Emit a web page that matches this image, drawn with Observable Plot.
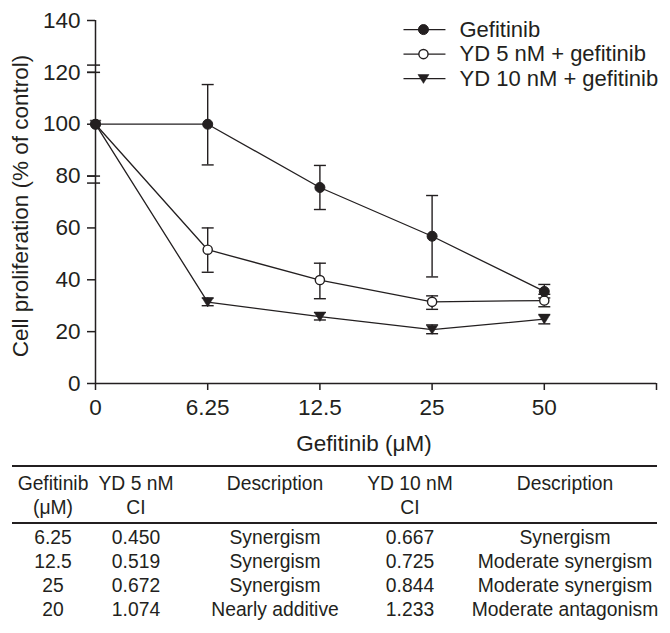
<!DOCTYPE html>
<html>
<head>
<meta charset="utf-8">
<script src="https://cdn.jsdelivr.net/npm/d3@7"></script>
<script src="https://cdn.jsdelivr.net/npm/@observablehq/plot@0.6"></script>
<style>
  html, body { margin: 0; padding: 0; background: #fff; }
  body { width: 670px; font-family: "Liberation Sans", Arial, sans-serif; color: #231f20; }
  #chart svg { display: block; }
  #table { position: relative; width: 670px; height: 173px; font-size: 19.3px; }
  #table .cell { position: absolute; transform: translateX(-50%); white-space: nowrap; line-height: 24px; height: 24px; }
  #table .rule { position: absolute; left: 12px; width: 645px; height: 2px; background: #231f20; }
</style>
</head>
<body>
<div id="chart"></div>
<div id="table"></div>
<script>
// ---------- chart data ----------
const xLabels = ["0", "6.25", "12.5", "25", "50"];
const seriesNames = ["Gefitinib", "YD 5 nM + gefitinib", "YD 10 nM + gefitinib"];

const gefMean = [100, 100, 75.6, 56.8, 35.5];
const gefLo   = [null, 84.3, 67.1, 41.1, 33.0];
const gefHi   = [null, 115.3, 84.1, 72.5, 38.2];

const yd5Mean = [100, 51.6, 39.9, 31.5, 32.0];
const yd5Lo   = [null, 42.9, 32.7, 28.6, 29.6];
const yd5Hi   = [null, 60.0, 46.4, 33.8, 34.4];

const yd10Mean = [100, 31.4, 25.8, 20.8, 24.8];
const yd10Lo   = [null, 30.0, 24.5, 19.2, 23.0];
const yd10Hi   = [null, 33.0, 27.4, 22.6, 26.6];

const yTicks = [0, 20, 40, 60, 80, 100, 120, 140];
const xTickSlots = [0, 1, 2, 3, 4, 5];
const axisBreaks = [120, 122.8, 77.3, 80];

const yTitle = "Cell proliferation (% of control)";
const xTitle = "Gefitinib (\u03bcM)";

// ---------- table data ----------
const tableHeaderTop = ["Gefitinib", "YD 5 nM", "Description", "YD 10 nM", "Description"];
const tableHeaderBottom = ["(\u03bcM)", "CI", "", "CI", ""];
const tableDose = ["6.25", "12.5", "25", "20"];
const tableCI5 = ["0.450", "0.519", "0.672", "1.074"];
const tableDesc5 = ["Synergism", "Synergism", "Synergism", "Nearly additive"];
const tableCI10 = ["0.667", "0.725", "0.844", "1.233"];
const tableDesc10 = ["Synergism", "Moderate synergism", "Moderate synergism", "Moderate antagonism"];

// ---------- build ----------
const ink = "#231f20";
const fs = 22.5;
const legendFs = 22;
const means = [gefMean, yd5Mean, yd10Mean];
const los = [gefLo, yd5Lo, yd10Lo];
const his = [gefHi, yd5Hi, yd10Hi];

const points = [];
const errs = [];
seriesNames.forEach((s, k) => {
  means[k].forEach((v, i) => {
    points.push({series: s, k, i, v});
    if (los[k][i] != null) errs.push({series: s, k, i, lo: los[k][i], hi: his[k][i]});
  });
});
const caps = errs.flatMap(d => [{i: d.i, y: d.lo}, {i: d.i, y: d.hi}]);

const capSymbol = {
  draw(ctx, size) {
    const w = Math.sqrt(size / Math.PI);
    ctx.moveTo(-w, 0); ctx.lineTo(w, 0);
  }
};
const triDown = {
  draw(ctx, size) {
    const r = Math.sqrt(size / Math.PI);
    ctx.moveTo(-1.15 * r, -0.85 * r);
    ctx.lineTo(1.15 * r, -0.85 * r);
    ctx.lineTo(0, 1.0 * r);
    ctx.closePath();
  }
};

const styles = [
  {symbol: "circle", fill: ink, stroke: ink, r: 5, strokeWidth: 1},
  {symbol: "circle", fill: "white", stroke: ink, r: 4.6, strokeWidth: 1.4},
  {symbol: triDown, fill: ink, stroke: ink, r: 4.8, strokeWidth: 0.5}
];

// legend placement (in scale units)
const legendLine = [2.745, 3.119];
const legendMark = 2.923;
const legendText = 3.244;
const legendTop = 136.5;
const legendStep = 9.45;
const legendRows = seriesNames.map((name, k) => ({name, k, y: legendTop - k * legendStep}));

const dotMarks = [];
[2, 1, 0].forEach(k => {
  const st = styles[k];
  dotMarks.push(Plot.dot(points.filter(d => d.k === k), {x: "i", y: "v", ...st}));
  dotMarks.push(Plot.dot(legendRows.filter(d => d.k === k), {x: () => legendMark, y: "y", ...st}));
});

const chart = Plot.plot({
  width: 670,
  height: 460,
  marginLeft: 95,
  marginRight: 14,
  marginTop: 20,
  marginBottom: 77,
  style: {fontSize: fs + "px", fontFamily: "'Liberation Sans', Arial, sans-serif", color: ink, background: "white"},
  x: {domain: [0, 5], axis: null},
  y: {domain: [0, 140], axis: null},
  marks: [
    Plot.ruleX([0], {stroke: ink, strokeWidth: 1.5}),
    Plot.ruleY([0], {stroke: ink, strokeWidth: 1.5}),
    Plot.axisY(yTicks, {anchor: "left", tickSize: 8, tickPadding: 7, label: null, stroke: ink, strokeWidth: 1.5, fontSize: fs}),
    Plot.axisX(xTickSlots, {anchor: "bottom", tickSize: 7, tickPadding: 9, label: null, stroke: ink, strokeWidth: 1.5, fontSize: fs,
      tickFormat: i => xLabels[i] ?? ""}),
    Plot.ruleY(axisBreaks, {x1: () => -0.071, x2: () => 0.045, stroke: ink, strokeWidth: 1.5}),
    Plot.ruleX(errs, {x: "i", y1: "lo", y2: "hi", stroke: ink, strokeWidth: 1.4}),
    Plot.dot(caps, {x: "i", y: "y", symbol: capSymbol, r: 6, stroke: ink, strokeWidth: 1.4, fill: "none"}),
    Plot.line(points, {x: "i", y: "v", z: "series", stroke: ink, strokeWidth: 1.3}),
    Plot.link(legendRows, {x1: () => legendLine[0], x2: () => legendLine[1], y1: "y", y2: "y", stroke: ink, strokeWidth: 1.3}),
    ...dotMarks,
    Plot.text(legendRows, {x: () => legendText, y: "y", text: "name", textAnchor: "start", fill: ink, fontSize: legendFs}),
    Plot.text([yTitle], {frameAnchor: "left", textAnchor: "middle", lineAnchor: "middle", rotate: -90, dx: -75, dy: 4, fill: ink, fontSize: fs}),
    Plot.text([xTitle], {frameAnchor: "bottom", textAnchor: "middle", lineAnchor: "middle", dx: -12, dy: 60, fill: ink, fontSize: fs})
  ]
});
document.getElementById("chart").append(chart);

// ---------- table ----------
const colCenters = [53, 136, 275, 410, 565];
const headerTops = [12, 36];
const rowTop0 = 66, rowStep = 24.1;
const rulesAt = [5, 62];
const tbl = document.getElementById("table");
rulesAt.forEach(t => {
  const r = document.createElement("div");
  r.className = "rule"; r.style.top = t + "px"; tbl.append(r);
});
function cell(text, x, top) {
  const c = document.createElement("div");
  c.className = "cell"; c.textContent = text;
  c.style.left = x + "px"; c.style.top = top + "px";
  tbl.append(c);
}
tableHeaderTop.forEach((t, j) => cell(t, colCenters[j], headerTops[0]));
tableHeaderBottom.forEach((t, j) => cell(t, colCenters[j], headerTops[1]));
const cols = [tableDose, tableCI5, tableDesc5, tableCI10, tableDesc10];
tableDose.forEach((_, r) => {
  cols.forEach((col, j) => cell(col[r], colCenters[j], rowTop0 + r * rowStep));
});
</script>
</body>
</html>
